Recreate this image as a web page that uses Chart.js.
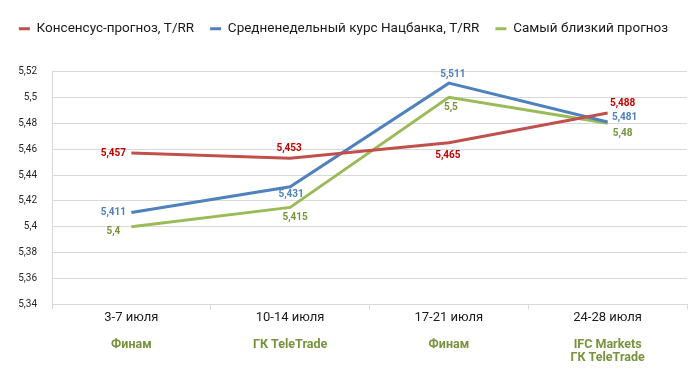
<!DOCTYPE html>
<html>
<head>
<meta charset="utf-8">
<script src="https://cdn.jsdelivr.net/npm/chart.js@4/dist/chart.umd.min.js"></script>
<style>
html, body { margin: 0; padding: 0; background: #fff; }
#wrap { width: 700px; height: 369px; }
</style>
</head>
<body>
<div id="wrap"><canvas id="myChart"></canvas></div>
<script>
var weeks = ['3-7 июля', '10-14 июля', '17-21 июля', '24-28 июля'];
var closest = [['Финам'], ['ГК TeleTrade'], ['Финам'], ['IFC Markets', 'ГК TeleTrade']];
var consensus = [5.457, 5.453, 5.465, 5.488];
var nbAverage = [5.411, 5.431, 5.511, 5.481];
var bestForecast = [5.4, 5.415, 5.5, 5.48];

function fmt(v) {
    return String(+(+v).toFixed(3)).replace('.', ',');
}

// value labels, each point has its own spot like in the excel original
var valueLabels = {
    id: 'valueLabels',
    afterDatasetsDraw: function(chart, args, opts) {
        var ctx = chart.ctx;
        ctx.save();
        ctx.font = 'bold 10px Roboto';
        ctx.textAlign = 'center';
        ctx.textBaseline = 'middle';
        chart.data.datasets.forEach(function(ds, i) {
            var meta = chart.getDatasetMeta(i);
            ctx.fillStyle = opts.colors[i];
            meta.data.forEach(function(pt, j) {
                var off = opts.offsets[i][j];
                ctx.fillText(fmt(ds.data[j]), pt.x + off[0], pt.y + off[1]);
            });
        });
        ctx.restore();
    }
};

// legend gets a fixed height so the plot starts where the original does
var legendHeight = {
    id: 'legendHeight',
    beforeUpdate: function(chart) {
        var lg = chart.legend;
        if (lg && !lg._patched) {
            var fit = lg.fit;
            lg.fit = function() {
                fit.call(this);
                this.height = 65.5;
            };
            lg._patched = true;
        }
    }
};

var ctx = document.getElementById('myChart').getContext('2d');

new Chart(ctx, {
    type: 'line',
    plugins: [valueLabels, legendHeight],
    data: {
        labels: weeks,
        datasets: [
            {
                label: 'Консенсус-прогноз, T/RR',
                data: consensus,
                borderColor: '#C0504D',
                backgroundColor: '#C0504D',
                borderWidth: 3,
                pointRadius: 0,
                tension: 0
            },
            {
                label: 'Средненедельный курс Нацбанка, T/RR',
                data: nbAverage,
                borderColor: '#4F81BD',
                backgroundColor: '#4F81BD',
                borderWidth: 3,
                pointRadius: 0,
                tension: 0
            },
            {
                label: 'Самый близкий прогноз',
                data: bestForecast,
                borderColor: '#9BBB59',
                backgroundColor: '#9BBB59',
                borderWidth: 3,
                pointRadius: 0,
                tension: 0
            }
        ]
    },
    options: {
        responsive: true,
        maintainAspectRatio: false,
        animation: false,
        layout: {
            padding: { left: 0, right: 13, top: 6, bottom: 0 }
        },
        scales: {
            x: {
                offset: true,
                grid: {
                    offset: true,
                    drawOnChartArea: false,
                    tickLength: 5,
                    color: '#d9d9d9'
                },
                border: { color: '#d9d9d9' },
                ticks: {
                    color: '#1a1a1a',
                    padding: 0,
                    maxRotation: 0,
                    font: { family: 'Roboto', size: 13 }
                },
                afterFit: function(scale) { scale.height = 22; }
            },
            x2: {
                type: 'category',
                labels: closest,
                position: 'bottom',
                offset: true,
                grid: { display: false },
                border: { display: false },
                ticks: {
                    color: '#77933C',
                    padding: 3,
                    maxRotation: 0,
                    font: { family: 'Roboto', size: 12.5, weight: 'bold', lineHeight: 1.1 }
                },
                afterFit: function(scale) { scale.height = 42.5; }
            },
            y: {
                min: 5.34,
                max: 5.52,
                grid: {
                    color: '#d9d9d9',
                    drawTicks: false
                },
                border: { color: '#d9d9d9' },
                ticks: {
                    stepSize: 0.02,
                    padding: 15,
                    color: '#262626',
                    font: { family: 'Roboto', size: 10 },
                    callback: function(v) { return fmt(v); }
                },
                afterFit: function(scale) { scale.width = 52; }
            }
        },
        plugins: {
            legend: {
                position: 'top',
                labels: {
                    boxWidth: 11,
                    boxHeight: 3,
                    padding: 16,
                    color: '#1a1a1a',
                    font: { family: 'Roboto', size: 13.5 },
                    generateLabels: function(chart) {
                        return Chart.defaults.plugins.legend.labels.generateLabels(chart).map(function(l) {
                            l.lineWidth = 0;
                            l.fillStyle = l.strokeStyle;
                            return l;
                        });
                    }
                }
            },
            tooltip: { enabled: false },
            valueLabels: {
                colors: ['#C00000', '#4F81BD', '#77933C'],
                offsets: [
                    [[-18, 0], [-1, -10], [-1, 13], [15, -9]],
                    [[-18, 0], [1, 8], [4, -9], [17, -4]],
                    [[-18, 5], [5, 10], [2, 10], [15, 10]]
                ]
            }
        }
    }
});
</script>
</body>
</html>
